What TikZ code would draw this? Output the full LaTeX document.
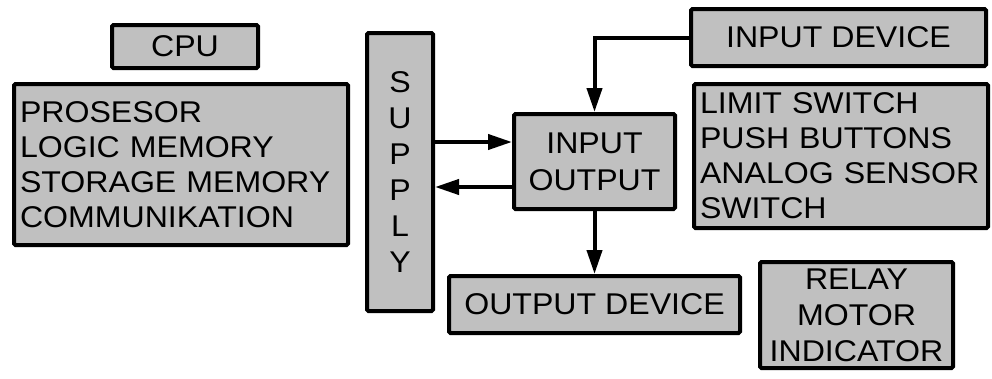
\documentclass[tikz,border=0pt]{standalone}
\usepackage{fontspec}
\setmainfont{Liberation Sans}[FakeStretch=1.07]
\usepackage{tikz}
\usetikzlibrary{arrows.meta}
\definecolor{boxgray}{RGB}{192,192,192}
\tikzset{>={Triangle[length=24pt,width=15pt]}}

\begin{document}
\begin{tikzpicture}[x=1pt, y=-1pt]
                        % io = input/output block, indev/outdev = device blocks
                        \tikzstyle{every node}=[rectangle, draw=black, fill=boxgray, line width=4pt, rounded corners=1.5pt, inner sep=0pt, font=\fontsize{30}{36}\selectfont]
                        \tikzstyle{listbox}=[align=left, inner xsep=6pt, font=\fontsize{30}{35}\selectfont]
                        \tikzstyle{every path}=[line width=4pt]
                        \useasboundingbox (0,0) rectangle (992,378);

                        \node[minimum width=146pt, minimum height=43pt] (cpu) at (185, 46.5) {CPU};
                        \node[listbox, minimum width=334pt, minimum height=161pt, text width=322pt] (cpulist) at (181, 164.5) {PROSESOR\\LOGIC MEMORY\\STORAGE MEMORY\\COMMUNIKATION};

                        \node[minimum width=66pt, minimum height=278pt, align=center] (supply) at (400, 172) {S\\U\\P\\P\\L\\Y};

                        \node[minimum width=161pt, minimum height=95pt, align=center, font=\fontsize{30}{37}\selectfont] (io) at (594.5, 161.5) {INPUT\\OUTPUT};
                        \node[minimum width=291pt, minimum height=57pt] (outdev) at (594.5, 304.5) {OUTPUT DEVICE};

                        \node[minimum width=295pt, minimum height=57pt] (indev) at (838.5, 37.5) {INPUT DEVICE};
                        \node[listbox, minimum width=294pt, minimum height=144pt, text width=282pt] (inlist) at (841, 156) {LIMIT SWITCH\\PUSH BUTTONS\\ANALOG SENSOR\\SWITCH};

                        \node[minimum width=193pt, minimum height=106pt, align=center] (outlist) at (856.5, 315) {RELAY\\MOTOR\\INDICATOR};

                        \coordinate (toio) at ([yshift=19.5pt]io.west);
                        \coordinate (fromio) at ([yshift=-25.5pt]io.west);
                        \draw[->] (supply.east |- toio) -- (toio);
                        \draw[->] (fromio) -- (supply.east |- fromio);

                        \draw[->] (indev.west) -| (io.north);
                        \draw[->] (io.south) -- (outdev.north);
                \end{tikzpicture}
\end{document}
